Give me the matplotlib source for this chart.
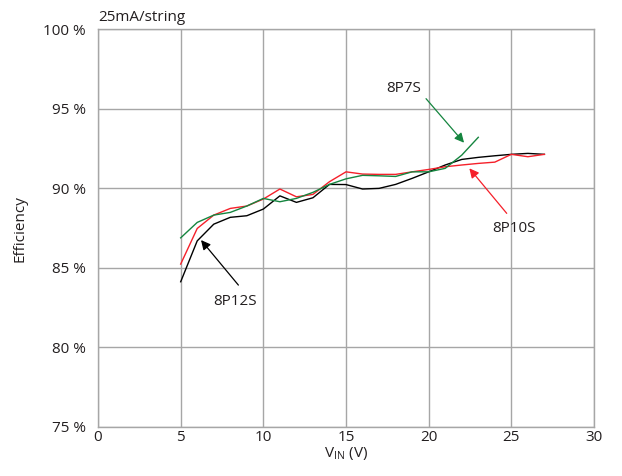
import matplotlib
matplotlib.use("Agg")
import matplotlib.pyplot as plt

plt.rcParams['font.family'] = ['Open Sans', 'DejaVu Sans']
plt.rcParams['mathtext.fontset'] = 'custom'
plt.rcParams['mathtext.rm'] = 'Open Sans'

vin_7s = [5, 6, 7, 8, 9, 10, 11, 12, 13, 14, 15, 16, 17, 18, 19, 20, 21, 22, 23]
eff_7s = [86.89, 87.86, 88.32, 88.49, 88.89, 89.37, 89.16, 89.37, 89.75, 90.25,
          90.60, 90.82, 90.79, 90.75, 91.04, 91.04, 91.26, 92.09, 93.21]

vin_10s = [5, 6, 7, 8, 9, 10, 11, 12, 13, 14, 15, 16, 17, 18, 19, 20, 21, 22, 23, 24, 25, 26, 27]
eff_10s = [85.24, 87.48, 88.32, 88.74, 88.89, 89.33, 89.96, 89.47, 89.62, 90.42,
           91.04, 90.90, 90.88, 90.88, 91.04, 91.19, 91.36, 91.47, 91.57, 91.65,
           92.14, 91.99, 92.14]

vin_12s = [5, 6, 7, 8, 9, 10, 11, 12, 13, 14, 15, 16, 17, 18, 19, 20, 21, 22, 23, 24, 25, 26, 27]
eff_12s = [84.13, 86.70, 87.75, 88.18, 88.28, 88.70, 89.53, 89.12, 89.41, 90.25,
           90.24, 89.96, 90.00, 90.25, 90.63, 91.04, 91.47, 91.82, 91.95, 92.05,
           92.14, 92.20, 92.14]

x_ticks = [0, 5, 10, 15, 20, 25, 30]
y_ticks = [75, 80, 85, 90, 95, 100]
y_ticklabels = ['75 %', '80 %', '85 %', '90 %', '95 %', '100 %']

c_green = '#15853f'
c_red = '#f5202a'
c_black = '#000000'
c_text = '#231f20'
fs = 11

fig = plt.figure(figsize=(6.22, 4.76), dpi=100)
ax = fig.add_axes([0.1576, 0.103, 0.7974, 0.8354])

ax.plot(vin_12s, eff_12s, color=c_black, lw=1.0, zorder=3)
ax.plot(vin_10s, eff_10s, color=c_red, lw=1.0, zorder=4)
ax.plot(vin_7s, eff_7s, color=c_green, lw=1.0, zorder=5)

ax.set_xlim(0, 30)
ax.set_ylim(75, 100)
ax.set_xticks(x_ticks)
ax.set_yticks(y_ticks)
ax.set_yticklabels(y_ticklabels)
ax.grid(True, color='#a6a6a6', lw=1.0)
ax.set_axisbelow(True)
for s in ax.spines.values():
    s.set_color('#a6a6a6')
    s.set_linewidth(1.0)
ax.tick_params(axis='both', length=0, labelsize=fs, colors=c_text)
ax.tick_params(axis='y', pad=9)
ax.tick_params(axis='x', pad=2)

ax.set_xlabel(r'V$_{\mathrm{IN}}$ (V)', fontsize=fs, color=c_text, labelpad=0)
ax.set_ylabel('Efficiency', fontsize=fs, color=c_text, labelpad=11)
ax.set_title('25mA/string', loc='left', fontsize=fs, color=c_text, pad=6)

arrow_kw = dict(arrowstyle='-|>', lw=0.9, mutation_scale=14, shrinkA=0, shrinkB=0)
ax.annotate('', xy=(22.14, 92.87), xytext=(19.84, 95.64),
            arrowprops=dict(color=c_green, **arrow_kw))
ax.text(18.5, 96.3, '8P7S', ha='center', va='center', fontsize=fs, color=c_text)
ax.annotate('', xy=(22.46, 91.26), xytext=(24.72, 88.43),
            arrowprops=dict(color=c_red, **arrow_kw))
ax.text(25.15, 87.48, '8P10S', ha='center', va='center', fontsize=fs, color=c_text)
ax.annotate('', xy=(6.23, 86.75), xytext=(8.49, 83.92),
            arrowprops=dict(color=c_black, **arrow_kw))
ax.text(8.29, 82.87, '8P12S', ha='center', va='center', fontsize=fs, color=c_text)

fig.savefig('out.png', dpi=100)
